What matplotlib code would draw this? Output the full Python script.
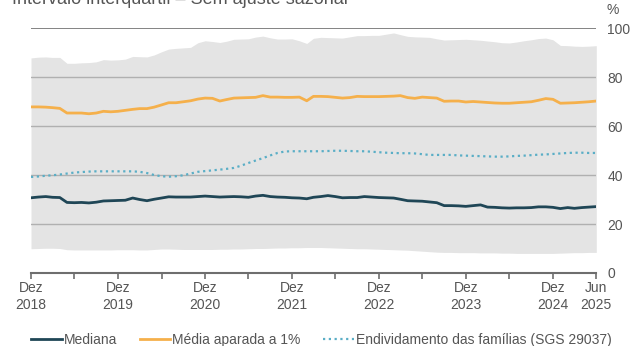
import matplotlib
matplotlib.use("Agg")
import matplotlib.pyplot as plt
import pandas as pd

plt.rcParams["font.family"] = ["Liberation Sans", "DejaVu Sans"]

# monthly, Dez 2018 .. Jun 2025
start = "2018-12-01"
n_months = 79

p75 = [87.8, 88.1, 88.2, 88.0, 88.0, 85.6, 85.6, 85.8, 85.9, 86.2, 87.1, 86.9, 87.0, 87.3, 88.4, 88.3,
       88.2, 89.0, 90.3, 91.4, 91.7, 91.9, 92.1, 94.0, 94.8, 94.5, 94.1, 94.6, 95.4, 95.5, 95.6, 96.3,
       96.7, 96.0, 95.5, 95.5, 95.6, 94.8, 93.7, 95.8, 96.2, 96.1, 96.0, 95.9, 96.4, 96.9, 96.9, 97.0,
       97.0, 97.5, 98.0, 97.3, 96.6, 96.4, 96.3, 96.2, 95.6, 95.1, 95.2, 95.3, 95.4, 95.2, 95.0, 94.7,
       94.4, 94.0, 93.9, 94.3, 94.8, 95.2, 95.7, 95.9, 95.2, 92.9, 92.8, 92.6, 92.5, 92.6, 92.8]

p25 = [9.9, 10.0, 10.1, 10.1, 10.0, 9.5, 9.4, 9.4, 9.4, 9.4, 9.4, 9.4, 9.5, 9.5, 9.5, 9.4,
       9.4, 9.6, 9.8, 9.8, 9.7, 9.6, 9.6, 9.6, 9.6, 9.6, 9.7, 9.7, 9.8, 9.8, 9.9, 10.0,
       10.0, 10.1, 10.2, 10.2, 10.3, 10.3, 10.4, 10.4, 10.4, 10.3, 10.2, 10.1, 10.0, 9.9, 9.9, 9.8,
       9.7, 9.6, 9.5, 9.4, 9.3, 9.1, 8.9, 8.7, 8.5, 8.4, 8.4, 8.3, 8.3, 8.3, 8.2, 8.2,
       8.2, 8.1, 8.1, 8.0, 8.0, 8.0, 8.0, 8.0, 8.0, 8.1, 8.2, 8.3, 8.3, 8.4, 8.4]

mediana = [30.7, 31.0, 31.2, 30.9, 30.8, 28.8, 28.7, 28.8, 28.6, 28.9, 29.4, 29.5, 29.6, 29.7, 30.6, 30.0,
           29.5, 30.1, 30.6, 31.1, 31.0, 31.0, 31.0, 31.2, 31.4, 31.2, 31.0, 31.1, 31.2, 31.1, 30.9, 31.4,
           31.7, 31.2, 31.0, 30.9, 30.7, 30.6, 30.3, 30.9, 31.2, 31.6, 31.2, 30.7, 30.8, 30.8, 31.2, 31.0,
           30.8, 30.7, 30.6, 30.1, 29.5, 29.4, 29.3, 29.0, 28.7, 27.5, 27.5, 27.4, 27.2, 27.5, 27.8, 26.9,
           26.8, 26.6, 26.5, 26.6, 26.6, 26.7, 27.0, 27.0, 26.8, 26.3, 26.7, 26.4, 26.7, 26.9, 27.1]

media_aparada = [67.8, 67.8, 67.7, 67.5, 67.2, 65.3, 65.3, 65.3, 65.0, 65.3, 66.0, 65.8, 66.0, 66.4, 66.8, 67.1,
                 67.1, 67.7, 68.6, 69.5, 69.5, 69.9, 70.3, 71.0, 71.4, 71.3, 70.2, 70.8, 71.4, 71.5, 71.6, 71.7,
                 72.4, 71.8, 71.8, 71.7, 71.7, 71.8, 70.3, 72.1, 72.1, 72.0, 71.7, 71.4, 71.6, 72.1, 72.0, 72.0,
                 72.0, 72.1, 72.2, 72.4, 71.6, 71.3, 71.8, 71.6, 71.4, 70.1, 70.2, 70.2, 69.8, 70.0, 69.8, 69.6,
                 69.4, 69.3, 69.3, 69.5, 69.7, 69.9, 70.5, 71.2, 70.9, 69.3, 69.4, 69.5, 69.7, 69.9, 70.2]

endividamento = [39.2, 39.4, 39.7, 39.9, 40.2, 40.6, 41.0, 41.2, 41.4, 41.5, 41.5, 41.5, 41.5, 41.5, 41.5, 41.3,
                 40.8, 40.0, 39.5, 39.3, 39.5, 39.9, 40.6, 41.3, 41.6, 41.9, 42.2, 42.5, 42.9, 43.8, 44.9, 45.9,
                 46.9, 48.0, 49.0, 49.6, 49.7, 49.7, 49.7, 49.7, 49.7, 49.8, 49.9, 49.9, 49.8, 49.7, 49.7, 49.5,
                 49.3, 49.1, 49.0, 48.9, 48.9, 48.8, 48.5, 48.2, 48.2, 48.2, 48.2, 48.0, 47.9, 47.8, 47.7, 47.6,
                 47.5, 47.5, 47.6, 47.8, 47.9, 48.1, 48.3, 48.4, 48.6, 48.8, 49.0, 49.1, 49.1, 49.0, 49.0]

tick_labels = {"2018-12": "Dez\n2018", "2019-12": "Dez\n2019", "2020-12": "Dez\n2020",
               "2021-12": "Dez\n2021", "2022-12": "Dez\n2022", "2023-12": "Dez\n2023",
               "2024-12": "Dez\n2024", "2025-06": "Jun\n2025"}

dates = pd.date_range(start, periods=n_months, freq="MS")

fig = plt.figure(figsize=(6.33, 3.46), dpi=100)
ax = fig.add_axes([0.049, 0.211, 0.893, 0.708])

ax.fill_between(dates, p25, p75, color="#e4e4e4", lw=0, zorder=1)
ax.plot(dates, mediana, color="#1f4656", lw=2, zorder=3, label="Mediana")
ax.plot(dates, media_aparada, color="#f5b04b", lw=2, zorder=3, label="Média aparada a 1%")
ax.plot(dates, endividamento, color="#5aaec6", lw=1.6, ls=(0, (1, 1.6)), zorder=3,
        label="Endividamento das famílias (SGS 29037)")

ax.set_ylim(0, 100)
ax.set_xlim(dates[0], dates[-1])
for y in [20, 40, 60, 80]:
    ax.axhline(y, color="#b0b0b0", lw=1, zorder=2)
ax.axhline(100, color="#6e6e6e", lw=1.2, zorder=2)

for s in ["top", "left", "right"]:
    ax.spines[s].set_visible(False)
ax.spines["bottom"].set_color("#6e6e6e")
ax.spines["bottom"].set_linewidth(1.5)

ax.yaxis.tick_right()
ax.set_yticks([0, 20, 40, 60, 80, 100])
ax.tick_params(axis="y", length=0, pad=8, labelsize=10, labelcolor="#555555")

ticks = dates[::6]
ax.set_xticks(ticks)
ax.set_xticklabels([tick_labels.get(d.strftime("%Y-%m"), "") for d in ticks])
ax.tick_params(axis="x", direction="out", length=4, width=1.2, color="#6e6e6e",
               labelsize=10, labelcolor="#555555", pad=2)

fig.text(0.968, 0.99, "%", fontsize=10, color="#555555", ha="center", va="top")
# title sits mostly above the canvas in the original, only its bottom shows
fig.text(0.019, 1 - 4 / 346, "Intervalo interquartil – Sem ajuste sazonal", fontsize=13,
         color="#555555", ha="left", va="baseline")

fig.legend(loc="lower left", bbox_to_anchor=(0.03, -0.039), ncol=3, frameon=False,
           fontsize=10, labelcolor="#555555", handlelength=2.2, handletextpad=0.15,
           columnspacing=1.6)

fig.savefig("out.png", dpi=100)
